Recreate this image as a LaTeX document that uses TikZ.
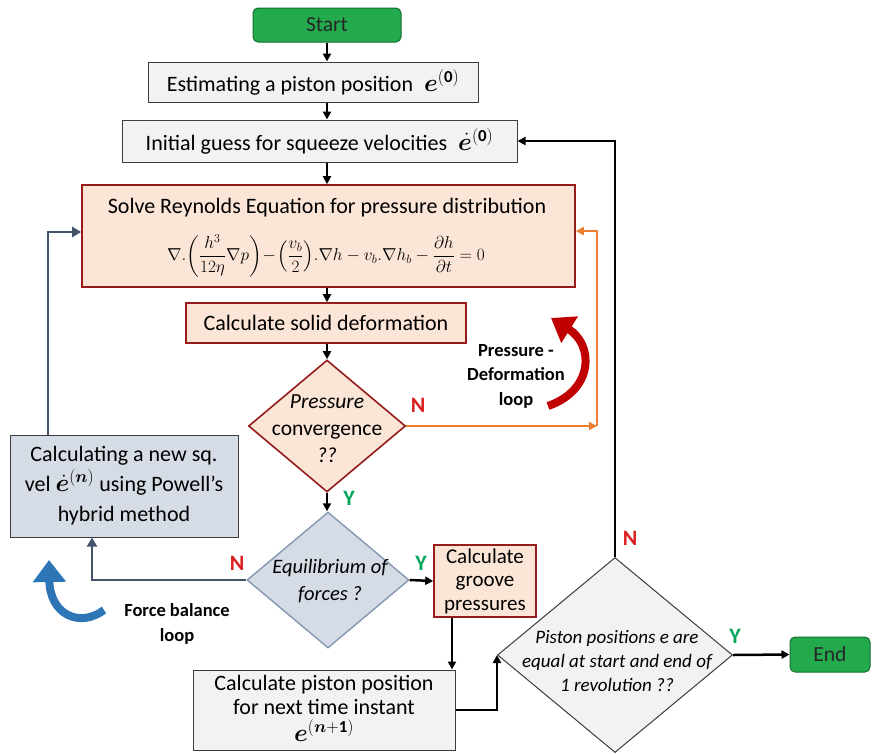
\documentclass[tikz,border=0pt]{standalone}
\usepackage{amsmath}
\usepackage{bm}
\usepackage{fontspec}
\setmainfont{Carlito}
\usetikzlibrary{arrows.meta,shapes.geometric}
\definecolor{gfill}{RGB}{34,170,76}
\definecolor{gdraw}{RGB}{20,110,50}
\definecolor{lgray}{RGB}{242,242,242}
\definecolor{dgray}{RGB}{60,60,60}
\definecolor{peach}{RGB}{251,229,214}
\definecolor{dred}{RGB}{150,28,28}
\definecolor{bgray}{RGB}{214,220,229}
\definecolor{bdraw}{RGB}{132,151,176}
\definecolor{orng}{RGB}{237,125,49}
\definecolor{slate}{RGB}{68,84,106}
\definecolor{ygreen}{RGB}{0,166,90}
\definecolor{nred}{RGB}{220,30,30}
\definecolor{loopred}{RGB}{192,0,0}
\definecolor{loopblue}{RGB}{46,117,182}
\newcommand{\mybigmath}[1]{{\fontsize{24}{26}\selectfont$#1$}}
\begin{document}
\begin{tikzpicture}[x=1pt,y=-1pt,
  txt/.style={font=\fontsize{22}{26}\selectfont, align=center, inner sep=0},
  termbox/.style={draw=gdraw, fill=gfill, line width=1pt, rounded corners=5pt, inner sep=0,
     font=\fontsize{21.5}{24}\selectfont, text=black!85},
  graybox/.style={draw=dgray, fill=lgray, line width=1pt, inner sep=0,
     font=\fontsize{22}{26}\selectfont, align=center},
  peachbox/.style={draw=dred, fill=peach, line width=1.6pt, inner sep=0,
     font=\fontsize{22}{26}\selectfont, align=center},
  bluebox/.style={draw=dgray, fill=bgray, line width=1pt, inner sep=0,
     font=\fontsize{22}{26}\selectfont, align=center},
  dia/.style={diamond, inner sep=0, aspect=1},
  arr/.style={line width=2.5pt, -{Triangle[length=8pt,width=8pt]}},
  lbl/.style={font=\fontsize{22}{24}\selectfont\bfseries, inner sep=0},
  looplbl/.style={font=\fontsize{18.5}{24.5}\selectfont\bfseries, align=center, inner sep=0},
]
\useasboundingbox (0,0) rectangle (872,753);
\coordinate (col) at (327,0);

% nodes
\node[termbox, minimum width=148pt, minimum height=34pt] (start) at (327,25) {Start};
\node[graybox, minimum width=330pt, minimum height=40pt] (est) at (313,82)
  {Estimating a piston position\enspace\mybigmath{\boldsymbol{e}^{(\mathbf{0})}}};
\node[graybox, minimum width=395pt, minimum height=42pt] (init) at (319.5,141)
  {Initial guess for squeeze velocities\enspace\mybigmath{\dot{\boldsymbol{e}}^{(\mathbf{0})}}};
\node[peachbox, minimum width=493pt, minimum height=102pt] (rey) at (328.5,236) {};
\node[txt] (reyt) at (327,208) {Solve Reynolds Equation for pressure distribution};
\node[inner sep=0, font=\fontsize{16.5}{18}\selectfont] (reyeq) at (326,256)
  {$\nabla.\!\left(\dfrac{h^3}{12\eta}\nabla p\right)\!-\!\left(\dfrac{v_b}{2}\right)\!.\nabla h - v_b.\nabla h_b - \dfrac{\partial h}{\partial t}=0$};
\node[peachbox, minimum width=280pt, minimum height=40pt] (solid) at (326,323) {Calculate solid deformation};

\node[dia, draw=dred, fill=peach, line width=1.6pt, minimum width=157pt, minimum height=132pt] (pc) at (327,426) {};
\node[txt, font=\fontsize{21.5}{27}\selectfont] at (327,429) {\itshape Pressure\\convergence\\\itshape ??};

\node[dia, draw=bdraw, fill=bgray, line width=1.4pt, minimum width=162pt, minimum height=136pt] (eq) at (328,580) {};
\node[txt, font=\fontsize{20.5}{27}\selectfont\itshape] at (330,581) {Equilibrium of\\forces ?};

\node[bluebox, minimum width=228pt, minimum height=102pt, font=\fontsize{22}{30}\selectfont] (calc) at (124,486)
  {Calculating a new sq.\\vel \mybigmath{\dot{\boldsymbol{e}}^{(\boldsymbol{n})}} using Powell’s\\hybrid method};

\node[peachbox, minimum width=102pt, minimum height=72pt, font=\fontsize{21}{23.5}\selectfont] (groove) at (485,581)
  {Calculate\\groove\\pressures};

\node[graybox, minimum width=262pt, minimum height=80pt] (pp) at (324,710) {};
\node[txt, font=\fontsize{22}{24}\selectfont] at (324,708)
  {Calculate piston position\\for next time instant\\[3pt]\mybigmath{\boldsymbol{e}^{(\boldsymbol{n}+\mathbf{1})}}};

\node[dia, draw=dgray, fill=lgray, line width=1pt, minimum width=235pt, minimum height=195pt] (fd) at (615,655) {};
\node[txt, font=\fontsize{19}{24}\selectfont\itshape] at (617,661)
  {Piston positions e are\\equal at start and end of\\1 revolution ??};

\node[termbox, minimum width=80pt, minimum height=35pt] (end) at (830,654.5) {End};

% main arrows
\draw[arr] (start.south -| col) -- (est.north -| col);
\draw[arr] (est.south -| col) -- (init.north -| col);
\draw[arr] (init.south -| col) -- (rey.north -| col);
\draw[arr] (rey.south -| col) -- (solid.north -| col);
\draw[arr] (solid.south -| col) -- (pc.north);
\draw[arr] (pc.south) -- (pc.south |- eq.north);
\draw[arr] (eq.east) -- (groove.west);
\coordinate (gx) at (452,0);
\draw[arr] (gx |- groove.south) -- (gx |- pp.north);
\draw[arr] (pp.east) -| (fd.west);
\draw[arr] (fd.east) -- (end.west);
\draw[arr] (fd.north) |- (init.east);

% pressure loop (orange)
\coordinate (oc) at (597,426);
\coordinate (ot) at (597,231);
\draw[orng, line width=2.6pt, -{Triangle[length=8pt,width=8pt]}] (pc.east) -- (oc);
\draw[orng, line width=2.6pt, -{Triangle[length=8pt,width=8pt]}] (oc) -- (ot) -- (ot -| rey.east);

% force loop (slate)
\coordinate (sx) at (92,0);
\draw[slate, line width=2.8pt, -{Triangle[length=9pt,width=10pt]}] (eq.west) -| (sx |- calc.south);
\coordinate (ux) at (48,232);
\draw[slate, line width=2.8pt, -{Triangle[length=9pt,width=10pt]}] (ux |- calc.north) -- (ux) -- (ux -| rey.west);

% labels
\node[lbl, text=nred] at (418,405) {N};
\node[lbl, text=ygreen] at (349,498) {Y};
\node[lbl, text=nred] at (237,563) {N};
\node[lbl, text=ygreen] at (421,563) {Y};
\node[lbl, text=nred] at (630,538) {N};
\node[lbl, text=ygreen] at (735,636) {Y};

% loop arrows
\draw[loopred, line width=8pt, -{Triangle[length=22pt,width=30pt]}]
  (548,406) .. controls (594,390) and (594,345) .. (551,318);
\node[looplbl] at (516,376) {Pressure -\\Deformation\\loop};

\draw[loopblue, line width=8pt, -{Triangle[length=22pt,width=32pt]}]
  (104,610) .. controls (80,628) and (50,615) .. (49,560);
\node[looplbl] at (177,624) {Force balance\\loop};
\end{tikzpicture}
\end{document}
